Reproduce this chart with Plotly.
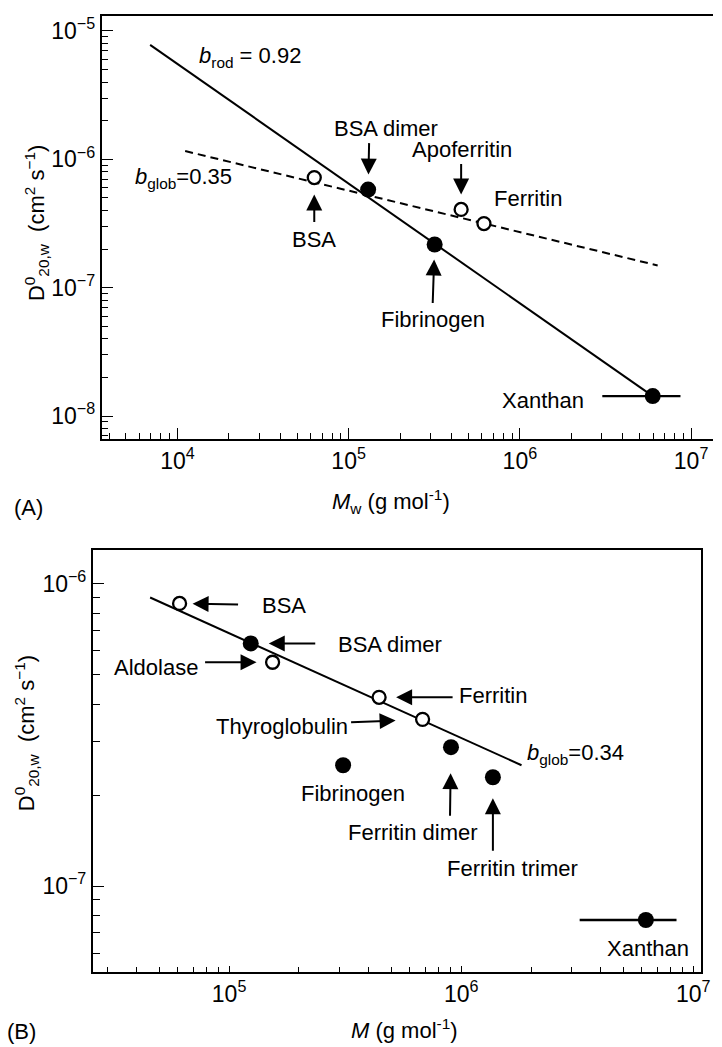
import numpy as np
import plotly.graph_objects as go

# ---------------- data: panel A ----------------
a_names = ["BSA", "BSA dimer", "Apoferritin", "Ferritin", "Fibrinogen", "Xanthan"]
a_M = [6.3e4, 1.30e5, 4.54e5, 6.17e5, 3.18e5, 5.97e6]
a_D = [7.21e-7, 5.81e-7, 4.07e-7, 3.16e-7, 2.17e-7, 1.43e-8]
a_open = [True, False, True, True, False, False]
a_xan_lo, a_xan_hi = 3.03e6, 8.67e6
a_rod_M = [6.93e3, 5.97e6]
a_rod_D = [7.8e-6, 1.43e-8]
a_glob_M = [1.11e4, 6.38e6]
a_glob_D = [1.16e-6, 1.49e-7]

# ---------------- data: panel B ----------------
b_names = ["BSA", "BSA dimer", "Aldolase", "Ferritin", "Thyroglobulin",
           "Fibrinogen", "Ferritin dimer", "Ferritin trimer", "Xanthan"]
b_M = [6.12e4, 1.24e5, 1.54e5, 4.43e5, 6.82e5, 3.10e5, 9.04e5, 1.37e6, 6.25e6]
b_D = [8.61e-7, 6.35e-7, 5.50e-7, 4.21e-7, 3.56e-7, 2.51e-7, 2.88e-7, 2.29e-7, 7.72e-8]
b_open = [True, False, True, True, True, False, False, False, False]
b_xan_lo, b_xan_hi = 3.24e6, 8.47e6
b_glob_M = [4.57e4, 1.82e6]
b_glob_D = [9.01e-7, 2.51e-7]

# tick labels
a_xtick_vals = [1e4, 1e5, 1e6, 1e7]
a_xtick_text = ["10<sup>4</sup>", "10<sup>5</sup>", "10<sup>6</sup>", "10<sup>7</sup>"]
a_ytick_vals = [1e-8, 1e-7, 1e-6, 1e-5]
a_ytick_text = ["10<sup>−8</sup>", "10<sup>−7</sup>", "10<sup>−6</sup>", "10<sup>−5</sup>"]
b_xtick_vals = [1e5, 1e6, 1e7]
b_xtick_text = ["10<sup>5</sup>", "10<sup>6</sup>", "10<sup>7</sup>"]
b_ytick_vals = [1e-7, 1e-6]
b_ytick_text = ["10<sup>−7</sup>", "10<sup>−6</sup>"]

W, H = 722, 1047
FONT = "Liberation Sans, Arial, Helvetica, sans-serif"
FS = 22
TFS = 23

def minors(lo, hi):
    out = []
    for e in range(lo, hi + 1):
        for k in range(2, 10):
            out.append(k * 10.0 ** e)
    return out

fig = go.Figure()

# ---- panel A ----
fig.add_trace(go.Scatter(x=a_rod_M, y=a_rod_D, mode="lines",
                         line=dict(color="black", width=2), xaxis="x", yaxis="y"))
fig.add_trace(go.Scatter(x=a_glob_M, y=a_glob_D, mode="lines",
                         line=dict(color="black", width=2, dash="8px,5px"), xaxis="x", yaxis="y"))
xa = a_names.index("Xanthan")
fig.add_trace(go.Scatter(x=[a_M[xa]], y=[a_D[xa]], mode="markers",
                         marker=dict(size=1, color="black"),
                         error_x=dict(type="data", symmetric=False,
                                      array=[a_xan_hi - a_M[xa]], arrayminus=[a_M[xa] - a_xan_lo],
                                      color="black", thickness=2.4, width=0),
                         xaxis="x", yaxis="y"))
for op in (False, True):
    xs = [m for m, o in zip(a_M, a_open) if o == op]
    ys = [d for d, o in zip(a_D, a_open) if o == op]
    fig.add_trace(go.Scatter(x=xs, y=ys, mode="markers",
                             marker=dict(symbol="circle", size=13 if op else 16,
                                         color="white" if op else "black",
                                         line=dict(color="black", width=2.3 if op else 0)),
                             xaxis="x", yaxis="y"))

# ---- panel B ----
fig.add_trace(go.Scatter(x=b_glob_M, y=b_glob_D, mode="lines",
                         line=dict(color="black", width=2), xaxis="x2", yaxis="y2"))
xb = b_names.index("Xanthan")
fig.add_trace(go.Scatter(x=[b_M[xb]], y=[b_D[xb]], mode="markers",
                         marker=dict(size=1, color="black"),
                         error_x=dict(type="data", symmetric=False,
                                      array=[b_xan_hi - b_M[xb]], arrayminus=[b_M[xb] - b_xan_lo],
                                      color="black", thickness=2.4, width=0),
                         xaxis="x2", yaxis="y2"))
for op in (False, True):
    xs = [m for m, o in zip(b_M, b_open) if o == op]
    ys = [d for d, o in zip(b_D, b_open) if o == op]
    fig.add_trace(go.Scatter(x=xs, y=ys, mode="markers",
                             marker=dict(symbol="circle", size=13 if op else 16,
                                         color="white" if op else "black",
                                         line=dict(color="black", width=2.3 if op else 0)),
                             xaxis="x2", yaxis="y2"))

ann = []

def text_px(txt, px, py, size=FS, angle=0, xanchor="center"):
    ann.append(dict(text=txt, x=px / W, y=1 - py / H, xref="paper", yref="paper",
                    showarrow=False, xanchor=xanchor, yanchor="middle",
                    textangle=angle, font=dict(family=FONT, size=size, color="black")))

def arrow(names, Ms, Ds, name, ax, ay, standoff, xr, yr):
    i = names.index(name)
    ann.append(dict(text="", x=np.log10(Ms[i]), y=np.log10(Ds[i]), xref=xr, yref=yr,
                    showarrow=True, ax=ax, ay=ay, axref="pixel", ayref="pixel",
                    arrowhead=2, arrowsize=1.6, arrowwidth=2, arrowcolor="black",
                    standoff=standoff))

# arrows panel A
arrow(a_names, a_M, a_D, "BSA", 0, 46, 17, "x", "y")
arrow(a_names, a_M, a_D, "BSA dimer", 1, -48, 15, "x", "y")
arrow(a_names, a_M, a_D, "Apoferritin", 0, -47, 15, "x", "y")
arrow(a_names, a_M, a_D, "Fibrinogen", -2, 60, 15, "x", "y")
# arrows panel B
arrow(b_names, b_M, b_D, "BSA", 60, 1, 13, "x2", "y2")
arrow(b_names, b_M, b_D, "BSA dimer", 66, 0, 18, "x2", "y2")
arrow(b_names, b_M, b_D, "Aldolase", -69, 0, 16, "x2", "y2")
arrow(b_names, b_M, b_D, "Ferritin", 75, 0, 17, "x2", "y2")
arrow(b_names, b_M, b_D, "Thyroglobulin", -73, 3, 27, "x2", "y2")
arrow(b_names, b_M, b_D, "Ferritin dimer", -1, 70, 26, "x2", "y2")
arrow(b_names, b_M, b_D, "Ferritin trimer", 0, 75, 21, "x2", "y2")

# labels panel A
text_px("<i>b</i><sub>rod</sub> = 0.92", 253, 55)
text_px("<i>b</i><sub>glob</sub>=0.35", 186, 176)
text_px("BSA", 318, 238)
text_px("BSA dimer", 391, 127)
text_px("Apoferritin", 468, 148)
text_px("Ferritin", 535, 197)
text_px("Fibrinogen", 438, 318)
text_px("Xanthan", 550, 399)
# labels panel B
text_px("BSA", 288, 605)
text_px("BSA dimer", 395, 644)
text_px("Aldolase", 158, 667)
text_px("Ferritin", 499, 695)
text_px("Thyroglobulin", 286, 726)
text_px("Fibrinogen", 357, 793)
text_px("Ferritin dimer", 418, 832)
text_px("Ferritin trimer", 519, 868)
text_px("Xanthan", 656, 948)
text_px("<i>b</i><sub>glob</sub>=0.34", 583, 753)

# axis titles and panel letters
ytitle = "D<sup>0</sup><sub>20,w</sub>  (cm<sup>2</sup> s<sup>−1</sup>)"
text_px(ytitle, 37, 222, angle=-90)
text_px(ytitle, 27, 733, angle=-90)
text_px("<i>M</i><sub>w</sub> (g mol<sup>-1</sup>)", 396, 500)
text_px("<i>M</i> (g mol<sup>-1</sup>)", 410, 1029)
text_px("(A)", 29, 506)
text_px("(B)", 22, 1031)

axis_common = dict(type="log", showgrid=False, zeroline=False, showline=True,
                   linecolor="black", linewidth=1.8, ticks="inside", tickcolor="black",
                   tickwidth=1.3, tickmode="array",
                   tickfont=dict(family=FONT, size=TFS, color="black"))

fig.update_layout(
    width=W, height=H, margin=dict(l=0, r=0, t=0, b=0),
    paper_bgcolor="white", plot_bgcolor="white", showlegend=False,
    font=dict(family=FONT, size=FS, color="black"),
    xaxis=dict(**axis_common, domain=[103 / W, 1.0], range=[3.558, 7.128],
               anchor="y", mirror=True, ticklen=11,
               tickvals=a_xtick_vals, ticktext=a_xtick_text,
               minor=dict(tickvals=minors(3, 6), ticks="inside", ticklen=6,
                          tickcolor="black", tickwidth=1.2)),
    yaxis=dict(**axis_common, domain=[1 - 438 / H, 1 - 14 / H], range=[-8.180, -4.883],
               anchor="x", ticklen=11,
               tickvals=a_ytick_vals, ticktext=a_ytick_text,
               minor=dict(tickvals=minors(-9, -6), ticks="inside", ticklen=6,
                          tickcolor="black", tickwidth=1.2)),
    xaxis2=dict(**axis_common, domain=[94 / W, 710 / W], range=[4.413, 7.034],
                anchor="y2", mirror=True, ticklen=6,
                tickvals=b_xtick_vals, ticktext=b_xtick_text,
                minor=dict(tickvals=minors(4, 6), ticks="inside", ticklen=5,
                           tickcolor="black", tickwidth=1.1)),
    yaxis2=dict(**axis_common, domain=[1 - 972 / H, 1 - 549 / H], range=[-7.285, -5.888],
                anchor="x2", mirror=True, ticklen=11,
                tickvals=b_ytick_vals, ticktext=b_ytick_text,
                minor=dict(tickvals=minors(-8, -7), ticks="inside", ticklen=7,
                           tickcolor="black", tickwidth=1.2)),
    annotations=ann,
)

fig.write_html("out.html")
